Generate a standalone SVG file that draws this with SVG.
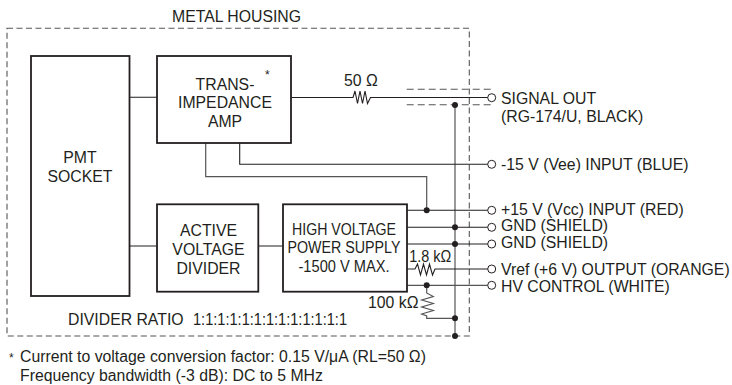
<svg xmlns="http://www.w3.org/2000/svg" width="732" height="385" viewBox="0 0 732 385">
<style>
text{font-family:"Liberation Sans",Arial,sans-serif;font-size:15.8px;fill:#231f20}
.m{text-anchor:middle}
.s{font-size:12px}
.b{fill:#fff;stroke:#231f20;stroke-width:1.8}
.w{fill:none;stroke:#231f20;stroke-width:1.1}
.g{fill:none;stroke:#555;stroke-width:1.2}
.d{fill:none;stroke:#555;stroke-width:1.1;stroke-dasharray:6 3.500}
.o{fill:#fff;stroke:#231f20;stroke-width:1}
.j{fill:#231f20}
</style>
<rect width="732" height="385" fill="#fff"/>
<g id="housing"><rect class="d" x="7" y="28.300" width="462.300" height="307.700"/><text x="172" y="22">METAL HOUSING</text></g>
<g id="connectors">
<path class="w" d="M130 97.300H157M130 246H157M258 246H283"/>
<path class="w" d="M291 97.500H353l2-6.500 2.500 12.500 2.500-12.500 2.500 12.500 2.500-12.500 2.500 12.500 3-6H488"/>
<path class="d" d="M406.700 89.300H492M406.700 104.700H492" style="stroke-dasharray:7 4"/>
<path class="g" d="M455 105V336"/>
<path class="w" d="M239.700 143V164.300H488"/>
<path class="g" d="M205.700 143V176.700H426.700V210"/>
<path class="w" d="M407 210.300H488M407 227.300H488M407 244H488"/>
<path class="w" d="M407 269H415l2.500-5 3 11 3-11 3 11 3-11 3 11 2.500-6H488"/>
<path class="g" d="M407 285.300H488"/>
<path class="g" d="M426.700 285.300V293l6.600 3.500-11.600 3.500 11.600 3.500-11.600 3.500 11.600 3.500-11.600 3.500 5 2V318.300H455"/>
<circle class="j" cx="455" cy="105" r="3"/><circle class="j" cx="426.700" cy="210.300" r="3"/><circle class="j" cx="455" cy="227.300" r="3"/><circle class="j" cx="455" cy="244" r="3"/><circle class="j" cx="426.700" cy="285.300" r="3"/><circle class="j" cx="455" cy="318.300" r="3"/><circle class="j" cx="455" cy="336" r="3"/>
<circle class="o" cx="491.700" cy="97.700" r="4"/><circle class="o" cx="491.700" cy="164.300" r="4"/><circle class="o" cx="491.700" cy="210.300" r="4"/><circle class="o" cx="491.700" cy="227.300" r="4"/><circle class="o" cx="491.700" cy="244" r="4"/><circle class="o" cx="491.700" cy="269" r="4"/><circle class="o" cx="491.700" cy="285.300" r="4"/>
</g>
<g id="pmt"><rect class="b" x="31" y="56" width="98.500" height="240"/><text class="m" x="80" y="163">PMT</text><text class="m" x="80" y="181.500">SOCKET</text></g>
<g id="amp"><rect class="b" x="157" y="56" width="134" height="87"/><text class="m" x="225" y="90">TRANS-</text><text class="m" x="225" y="108">IMPEDANCE</text><text class="m" x="225" y="126.500">AMP</text><text class="s" x="265" y="79">*</text></g>
<g id="divider"><rect class="b" x="157" y="204.300" width="101.300" height="87.400"/><text class="m" x="208.500" y="236">ACTIVE</text><text class="m" x="208.500" y="255">VOLTAGE</text><text class="m" x="208.500" y="274">DIVIDER</text></g>
<g id="hv"><rect class="b" x="283" y="204.300" width="124" height="87.400"/><text class="m" x="344" y="235" textLength="104" lengthAdjust="spacingAndGlyphs">HIGH VOLTAGE</text><text class="m" x="344" y="253" textLength="113" lengthAdjust="spacingAndGlyphs">POWER SUPPLY</text><text class="m" x="344" y="272" textLength="91" lengthAdjust="spacingAndGlyphs">-1500 V MAX.</text></g>
<g id="labels">
<text x="344" y="86">50 Ω</text><text x="409.300" y="261.500" textLength="42" lengthAdjust="spacingAndGlyphs">1.8 kΩ</text><text x="368" y="308">100 kΩ</text>
<text x="501" y="103.500">SIGNAL OUT</text><text x="501" y="122">(RG-174/U, BLACK)</text>
<text x="501" y="170">-15 V (Vee) INPUT (BLUE)</text>
<text x="501" y="214.500">+15 V (Vcc) INPUT (RED)</text>
<text x="501" y="231">GND (SHIELD)</text><text x="501" y="248">GND (SHIELD)</text>
<text x="501" y="275">Vref (+6 V) OUTPUT (ORANGE)</text><text x="501" y="291.500">HV CONTROL (WHITE)</text>
<text x="68" y="325">DIVIDER RATIO</text><text x="193" y="325" textLength="154" lengthAdjust="spacingAndGlyphs">1:1:1:1:1:1:1:1:1:1:1:1:1</text>
<text class="s" x="9" y="362">*</text>
<text x="20" y="362">Current to voltage conversion factor: 0.15 V/μA (RL=50 Ω)</text>
<text x="20" y="380.500">Frequency bandwidth (-3 dB): DC to 5 MHz</text>
</g>
</svg>
